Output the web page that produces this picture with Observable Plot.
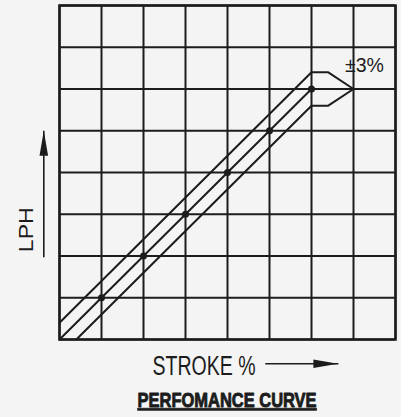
<!DOCTYPE html>
<html>
<head>
<meta charset="utf-8">
<script src="https://cdn.jsdelivr.net/npm/d3@7"></script>
<script src="https://cdn.jsdelivr.net/npm/@observablehq/plot@0.6"></script>
<style>
  html, body { margin: 0; padding: 0; background: #f4f4f4; }
  #chart { width: 401px; height: 417px; }
</style>
</head>
<body>
<div id="chart"></div>
<script>
// grid lines (8 x 8 cells)
const gridTicks = [0, 1, 2, 3, 4, 5, 6, 7, 8];
// nominal performance curve (stroke step vs LPH step)
const strokeSteps = [0, 1, 2, 3, 4, 5, 6];
const lphSteps    = [0, 1, 2, 3, 4, 5, 6];
// measured points
const pointStroke = [1, 2, 3, 4, 5, 6];
const pointLph    = [1, 2, 3, 4, 5, 6];
// ±3% tolerance envelope outline
const bandStroke = [0,   6,   6.4, 7, 6.4, 6,   0.4];
const bandLph    = [0.4, 6.4, 6.4, 6, 5.6, 5.6, 0];
// labels
const labelTol = "±3%";
const labelX = "STROKE %";
const labelY = "LPH";
const titleText = "PERFOMANCE CURVE";

const curve = strokeSteps.map((s, i) => ({x: s, y: lphSteps[i]}));
const points = pointStroke.map((s, i) => ({x: s, y: pointLph[i]}));
const band = bandStroke.map((s, i) => ({x: s, y: bandLph[i]}));

const ink = "#1c1c1c";

const plot = Plot.plot({
  width: 401,
  height: 417,
  marginLeft: 59,
  marginRight: 6,
  marginTop: 5,
  marginBottom: 78,
  style: {background: "#f4f4f4", overflow: "visible"},
  x: {domain: [0, 8], axis: null},
  y: {domain: [0, 8], axis: null},
  marks: [
    Plot.gridX(gridTicks, {stroke: ink, strokeOpacity: 1, strokeWidth: 2}),
    Plot.gridY(gridTicks, {stroke: ink, strokeOpacity: 1, strokeWidth: 2}),
    Plot.frame({stroke: ink, strokeWidth: 2.5}),
    Plot.line(band, {x: "x", y: "y", stroke: ink, strokeWidth: 2, strokeLinejoin: "miter"}),
    Plot.line(curve, {x: "x", y: "y", stroke: ink, strokeWidth: 2}),
    Plot.dot(points, {x: "x", y: "y", r: 3.5, fill: ink, stroke: "none"}),
    Plot.text([labelTol], {x: 7.26, y: 6.56, text: d => d, fontSize: 21, fill: ink,
      fontFamily: "Liberation Sans, Arial, sans-serif"}),
    Plot.text([labelX], {x: 3.44, y: -0.64, text: d => d, fontSize: 27, fill: ink,
      fontFamily: "Liberation Sans Narrow, Liberation Sans, Arial, sans-serif"}),
    Plot.text([labelY], {x: -0.78, y: 2.63, text: d => d, fontSize: 21, fill: ink, rotate: -90,
      fontFamily: "Liberation Sans Narrow, Liberation Sans, Arial, sans-serif"}),
    Plot.text([titleText], {x: 3.99, y: -1.47, text: d => d, fontSize: 20, fontWeight: "bold", fill: ink,
      stroke: ink, strokeWidth: 0.9,
      fontFamily: "Liberation Sans Narrow, Liberation Sans, Arial, sans-serif"}),
    Plot.link([{x1: 4.9, y1: -0.582, x2: 6.64, y2: -0.582}, {x1: -0.374, y1: 1.97, x2: -0.374, y2: 5.0}],
      {x1: "x1", y1: "y1", x2: "x2", y2: "y2", stroke: ink, strokeWidth: 1.6})
  ]
});

const svg = d3.select(plot);
// filled arrowheads
const defs = svg.append("defs");
defs.append("marker")
  .attr("id", "fillArrow")
  .attr("markerUnits", "userSpaceOnUse")
  .attr("viewBox", "0 -5 25 10")
  .attr("markerWidth", 25)
  .attr("markerHeight", 10)
  .attr("refX", 25)
  .attr("refY", 0)
  .attr("orient", "auto")
  .append("path")
  .attr("d", "M0,-4.3L25,0L0,4.3Z")
  .attr("fill", ink);
svg.selectAll('g[aria-label="link"] path').attr("marker-end", "url(#fillArrow)");

// fit text widths to the reference
const lengths = {"±3%": 39, "STROKE %": 103, "LPH": 45, "PERFOMANCE CURVE": 179};
svg.selectAll('g[aria-label="text"] text').each(function() {
  const t = this.textContent;
  if (lengths[t]) {
    this.setAttribute("textLength", lengths[t]);
    this.setAttribute("lengthAdjust", "spacingAndGlyphs");
  }
  if (t === "PERFOMANCE CURVE") this.setAttribute("text-decoration", "underline");
});

document.getElementById("chart").appendChild(plot);
</script>
</body>
</html>
